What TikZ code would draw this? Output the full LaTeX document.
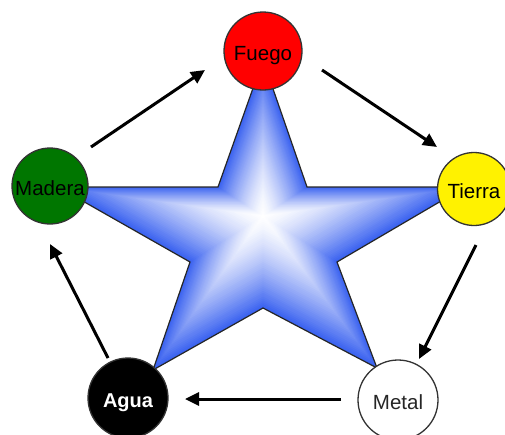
\documentclass[tikz,border=0pt]{standalone}
\usepackage{fontspec}
\setmainfont{Liberation Sans}
\usetikzlibrary{arrows.meta}
\definecolor{starblue}{RGB}{58,98,240}
\definecolor{woodgreen}{RGB}{0,118,0}
\begin{document}
\begin{tikzpicture}[x=1pt,y=-1pt,
  elem/.style={circle, draw=black!80, line width=1.3pt, minimum size=#1, inner sep=0pt, text height=18pt, text depth=0pt, font=\fontsize{20.5}{24}\selectfont},
  flow/.style={line width=3pt, -{Triangle[length=14pt,width=13pt]}, black},
  staredge/.style={line width=1.2pt, draw=black!85, line join=miter}
]
\useasboundingbox (0,0) rectangle (505,434);
% star with path gradient (white centre to blue border)
\foreach \i in {48,47,...,1}{
  \pgfmathsetmacro\s{\i/48}
  \pgfmathtruncatemacro\p{100*(\i/48)^1.4}
  \begin{scope}[shift={(263,216)}, scale=\s]
    \fill[starblue!\p!white] (0,-156) -- (44,-29) -- (202,-29) -- (74,46) -- (114,152) -- (0,92) -- (-110,154) -- (-73,46) -- (-205,-29) -- (-45,-29) -- cycle;
  \end{scope}
}
\begin{scope}[shift={(263,216)}]
  \draw[staredge] (0,-156) -- (44,-29) -- (202,-29) -- (74,46) -- (114,152) -- (0,92) -- (-110,154) -- (-73,46) -- (-205,-29) -- (-45,-29) -- cycle;
\end{scope}
% elements
\node[elem=78pt, fill=red] (fuego) at (263,51) {Fuego};
\node[elem=76pt, fill=woodgreen] (madera) at (50,186) {Madera};
\node[elem=73pt, fill=yellow] (tierra) at (474,189) {Tierra};
\node[elem=80pt, fill=black, text=white, font=\fontsize{20}{24}\selectfont\bfseries] (agua) at (128,398) {Agua};
\node[elem=80pt, fill=white, text=black!85] (metal) at (398,400) {Metal};
% arrow end points
\coordinate (a1s) at (91,147);  \coordinate (a1e) at (205,70);
\coordinate (a2s) at (322,70);  \coordinate (a2e) at (437,147);
\coordinate (a3s) at (476,245); \coordinate (a3e) at (419,359);
\coordinate (a4s) at (341,399); \coordinate (a4e) at (185,399);
\coordinate (a5s) at (108,358); \coordinate (a5e) at (50,244);
\draw[flow] (a1s) -- (a1e);
\draw[flow] (a2s) -- (a2e);
\draw[flow] (a3s) -- (a3e);
\draw[flow] (a4s) -- (a4e);
\draw[flow] (a5s) -- (a5e);
\end{tikzpicture}
\end{document}
